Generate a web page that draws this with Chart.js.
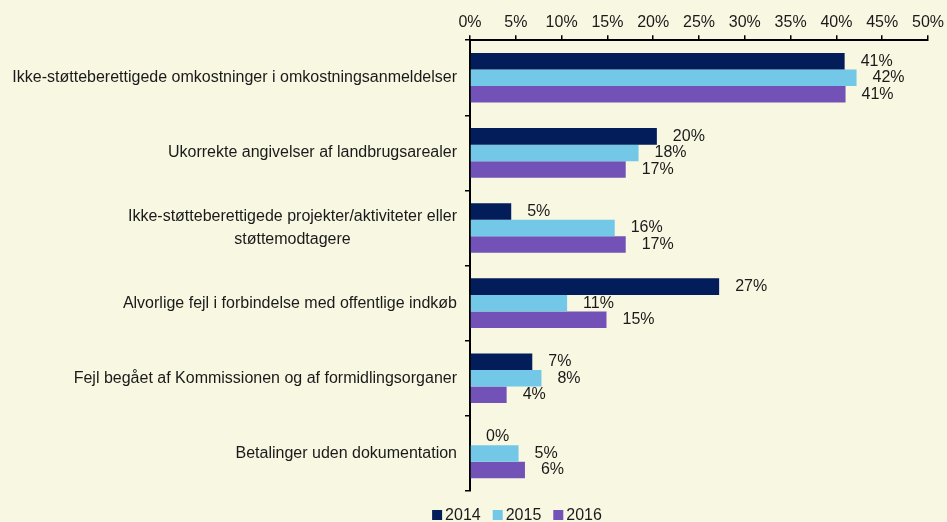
<!DOCTYPE html>
<html>
<head>
<meta charset="utf-8">
<script src="https://cdn.jsdelivr.net/npm/chart.js@4"></script>
<style>
  html, body { margin: 0; padding: 0; background: #f8f7e2; }
  #wrap { width: 947px; height: 522px; }
</style>
</head>
<body>
<div id="wrap"><canvas id="errors" width="947" height="522"></canvas></div>
<script>
const categories = [
  "Ikke-støtteberettigede omkostninger i omkostningsanmeldelser",
  "Ukorrekte angivelser af landbrugsarealer",
  ["Ikke-støtteberettigede projekter/aktiviteter eller", "støttemodtagere"],
  "Alvorlige fejl i forbindelse med offentlige indkøb",
  "Fejl begået af Kommissionen og af formidlingsorganer",
  "Betalinger uden dokumentation",
];
const years = ["2014", "2015", "2016"];
const values2014 = [40.9, 20.4, 4.5, 27.2, 6.8, 0];
const values2015 = [42.2, 18.4, 15.8, 10.6, 7.8, 5.3];
const values2016 = [41.0, 17.0, 17.0, 14.9, 4.0, 6.0];
const xTicks = [0, 5, 10, 15, 20, 25, 30, 35, 40, 45, 50];

const colors = ["#031d5b", "#72c8e6", "#7252b6"];
const fontFamily = "'Liberation Sans', Arial, sans-serif";
const textColor = "#1a1a1a";

//Category labels left of the axis, multi-line blocks centered
const categoryLabels = {
  id: "categoryLabels",
  afterDraw(chart) {
    const ctx = chart.ctx;
    const yScale = chart.scales.y;
    const right = chart.chartArea.left - 13;
    ctx.save();
    ctx.font = "16px " + fontFamily;
    ctx.fillStyle = textColor;
    ctx.textBaseline = "middle";
    ctx.textAlign = "center";
    categories.forEach((label, i) => {
      const lines = Array.isArray(label) ? label : [label];
      const yMid = yScale.getPixelForValue(i);
      const widest = Math.max(...lines.map((l) => ctx.measureText(l).width));
      lines.forEach((line, j) => {
        const y = yMid + (j - (lines.length - 1) / 2) * 23;
        ctx.fillText(line, right - widest / 2, y);
      });
    });
    ctx.restore();
  },
};

//Value labels at the end of each bar
const valueLabels = {
  id: "valueLabels",
  afterDatasetsDraw(chart) {
    const ctx = chart.ctx;
    ctx.save();
    ctx.font = "16px " + fontFamily;
    ctx.fillStyle = textColor;
    ctx.textAlign = "left";
    ctx.textBaseline = "middle";
    chart.data.datasets.forEach((ds, di) => {
      chart.getDatasetMeta(di).data.forEach((bar, i) => {
        ctx.fillText(Math.round(ds.data[i]) + "%", bar.x + 16, bar.y);
      });
    });
    ctx.restore();
  },
};

//Compact legend under the plot
const bottomLegend = {
  id: "bottomLegend",
  afterDraw(chart) {
    const ctx = chart.ctx;
    ctx.save();
    ctx.font = "16px " + fontFamily;
    ctx.textBaseline = "middle";
    ctx.textAlign = "left";
    const box = 10, gapText = 3, gapItem = 12;
    const widths = years.map((y) => box + gapText + ctx.measureText(y).width);
    const total = widths.reduce((a, b) => a + b, 0) + gapItem * (years.length - 1);
    let x = 517 - total / 2;
    const y = 515;
    years.forEach((yr, i) => {
      ctx.fillStyle = colors[i];
      ctx.fillRect(x, y - box / 2, box, box);
      ctx.fillStyle = textColor;
      ctx.fillText(yr, x + box + gapText, y + 1);
      x += widths[i] + gapItem;
    });
    ctx.restore();
  },
};

const datasets = [values2014, values2015, values2016].map((vals, i) => ({
  label: years[i],
  data: vals,
  backgroundColor: colors[i],
  borderWidth: 0,
  categoryPercentage: 0.66,
  barPercentage: 1,
}));

new Chart(document.getElementById("errors").getContext("2d"), {
  type: "bar",
  data: {
    labels: categories.map((c) => (Array.isArray(c) ? c.join(" ") : c)),
    datasets: datasets,
  },
  options: {
    indexAxis: "y",
    responsive: false,
    animation: false,
    layout: { padding: { top: 10, right: 14, bottom: 31, left: 0 } },
    scales: {
      x: {
        position: "top",
        min: 0,
        max: 50,
        afterBuildTicks: (scale) => {
          scale.ticks = xTicks.map((v) => ({ value: v }));
        },
        ticks: {
          callback: (v) => v + "%",
          color: textColor,
          font: { family: fontFamily, size: 16 },
          padding: 3,
          maxRotation: 0,
        },
        grid: {
          drawOnChartArea: false,
          drawTicks: true,
          tickLength: 5,
          color: "#000",
          lineWidth: 1.5,
        },
        border: { color: "#000", width: 2 },
      },
      y: {
        afterFit: (scale) => {
          scale.width = 470;
        },
        ticks: { display: false },
        grid: {
          drawOnChartArea: false,
          drawTicks: true,
          tickLength: 5,
          color: "#000",
          lineWidth: 1.5,
        },
        border: { color: "#000", width: 2 },
      },
    },
    plugins: {
      legend: { display: false },
      tooltip: { enabled: false },
    },
  },
  plugins: [categoryLabels, valueLabels, bottomLegend],
});
</script>
</body>
</html>
